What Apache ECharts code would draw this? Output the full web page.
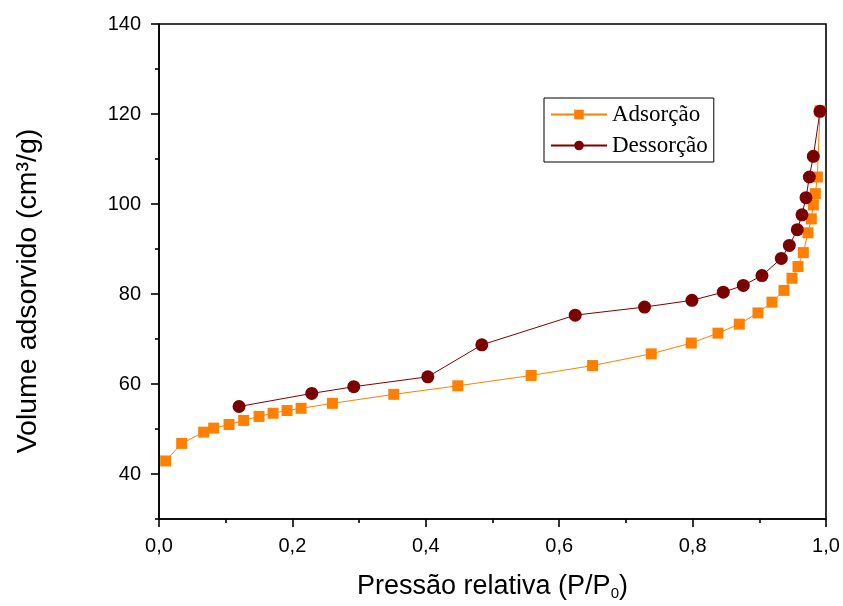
<!DOCTYPE html>
<html>
<head>
<meta charset="utf-8">
<script src="https://cdn.jsdelivr.net/npm/echarts@6/dist/echarts.min.js"></script>
<style>html,body{margin:0;padding:0;background:#fff;}#c{width:843px;height:606px;}</style>
</head>
<body>
<div id="c"></div>
<script>
// Adsorption branch (P/P0, volume cm3/g)
var adsP = [0.010, 0.034, 0.067, 0.082, 0.105, 0.127, 0.150, 0.171, 0.192, 0.213, 0.260, 0.352, 0.448, 0.558, 0.650, 0.738, 0.798, 0.838, 0.870, 0.898, 0.919, 0.937, 0.949, 0.958, 0.966, 0.973, 0.978, 0.981, 0.984, 0.987, 0.991];
var adsV = [42.9, 46.8, 49.3, 50.2, 51.0, 51.9, 52.8, 53.5, 54.1, 54.6, 55.7, 57.7, 59.6, 61.9, 64.1, 66.7, 69.1, 71.3, 73.3, 75.8, 78.2, 80.8, 83.5, 86.1, 89.2, 93.6, 96.7, 99.8, 102.3, 106.0, 120.7];
// Desorption branch
var desP = [0.120, 0.229, 0.292, 0.403, 0.484, 0.624, 0.728, 0.799, 0.846, 0.876, 0.904, 0.933, 0.945, 0.957, 0.964, 0.970, 0.975, 0.981, 0.991];
var desV = [55.0, 57.9, 59.4, 61.6, 68.7, 75.3, 77.1, 78.6, 80.4, 81.9, 84.1, 87.9, 90.8, 94.3, 97.6, 101.4, 106.0, 110.6, 120.6];
// Tick values
var yMajorTicks = [40, 60, 80, 100, 120, 140];
var yMinorTicks = [30, 50, 70, 90, 110, 130];
var seriesNames = ['Adsorção', 'Dessorção'];
var yTitle = 'Volume adsorvido (cm³/g)';

function pairs(xs, ys) { return xs.map(function (x, i) { return [x, ys[i]]; }); }

var chart = echarts.init(document.getElementById('c'), null, {renderer: 'canvas'});
var axisCol = '#000';
chart.setOption({
  animation: false,
  backgroundColor: '#fff',
  grid: {left: 159, right: 17, top: 24, bottom: 85, show: true, borderColor: axisCol, borderWidth: 1.6, backgroundColor: 'transparent'},
  legend: {
    left: 544, top: 98, orient: 'vertical',
    data: seriesNames,
    borderColor: '#000', borderWidth: 1, padding: [5, 6, 5, 6],
    itemWidth: 56, itemHeight: 12, itemGap: 8,
    textStyle: {fontFamily: 'Liberation Serif', fontSize: 23, color: '#000'}
  },
  graphic: [{
    type: 'text', x: 28, y: 291,
    rotation: Math.PI / 2,
    style: {text: yTitle, fontFamily: 'Liberation Sans', fontSize: 28.5, fill: '#000', align: 'center', verticalAlign: 'middle'}
  }],
  xAxis: {
    type: 'value', min: 0, max: 1, interval: 0.2,
    name: '{a|Pressão relativa (P/P}{s|0}{a|)}',
    nameLocation: 'middle', nameGap: 53,
    nameTextStyle: {rich: {
      a: {fontFamily: 'Liberation Sans', fontSize: 27, color: '#000'},
      s: {fontFamily: 'Liberation Sans', fontSize: 15, color: '#000', verticalAlign: 'bottom', padding: [14, 0, 0, 0]}
    }},
    axisLine: {show: true, lineStyle: {color: axisCol, width: 1.6}},
    axisTick: {show: true, inside: false, length: 8, lineStyle: {color: axisCol, width: 1.6}},
    minorTick: {show: true, splitNumber: 2, length: 4, lineStyle: {color: axisCol, width: 1.6}},
    splitLine: {show: false},
    axisLabel: {fontFamily: 'Liberation Sans', fontSize: 20, color: '#000', margin: 17,
      formatter: function (v) { return v.toFixed(1).replace('.', ','); }}
  },
  yAxis: [{
    type: 'value', min: 30, max: 140,
    axisLine: {show: true, lineStyle: {color: axisCol, width: 1.6}},
    axisTick: {show: true, length: 8, customValues: yMajorTicks, lineStyle: {color: axisCol, width: 1.6}},
    splitLine: {show: false},
    axisLabel: {customValues: yMajorTicks, fontFamily: 'Liberation Sans', fontSize: 20, color: '#000', margin: 18}
  }, {
    type: 'value', min: 30, max: 140, position: 'left',
    axisLine: {show: false},
    axisTick: {show: true, length: 4, customValues: yMinorTicks, lineStyle: {color: axisCol, width: 1.6}},
    axisLabel: {show: false},
    splitLine: {show: false}
  }],
  series: [{
    name: seriesNames[0], type: 'line', yAxisIndex: 0,
    data: pairs(adsP, adsV),
    symbol: 'rect', symbolSize: 11,
    lineStyle: {color: '#FF8000', width: 1},
    itemStyle: {color: '#FF8000'},
    z: 2
  }, {
    name: seriesNames[1], type: 'line', yAxisIndex: 0,
    data: pairs(desP, desV),
    symbol: 'circle', symbolSize: 13,
    lineStyle: {color: '#800000', width: 1},
    itemStyle: {color: '#7B0000'},
    z: 3
  }]
});
</script>
</body>
</html>
